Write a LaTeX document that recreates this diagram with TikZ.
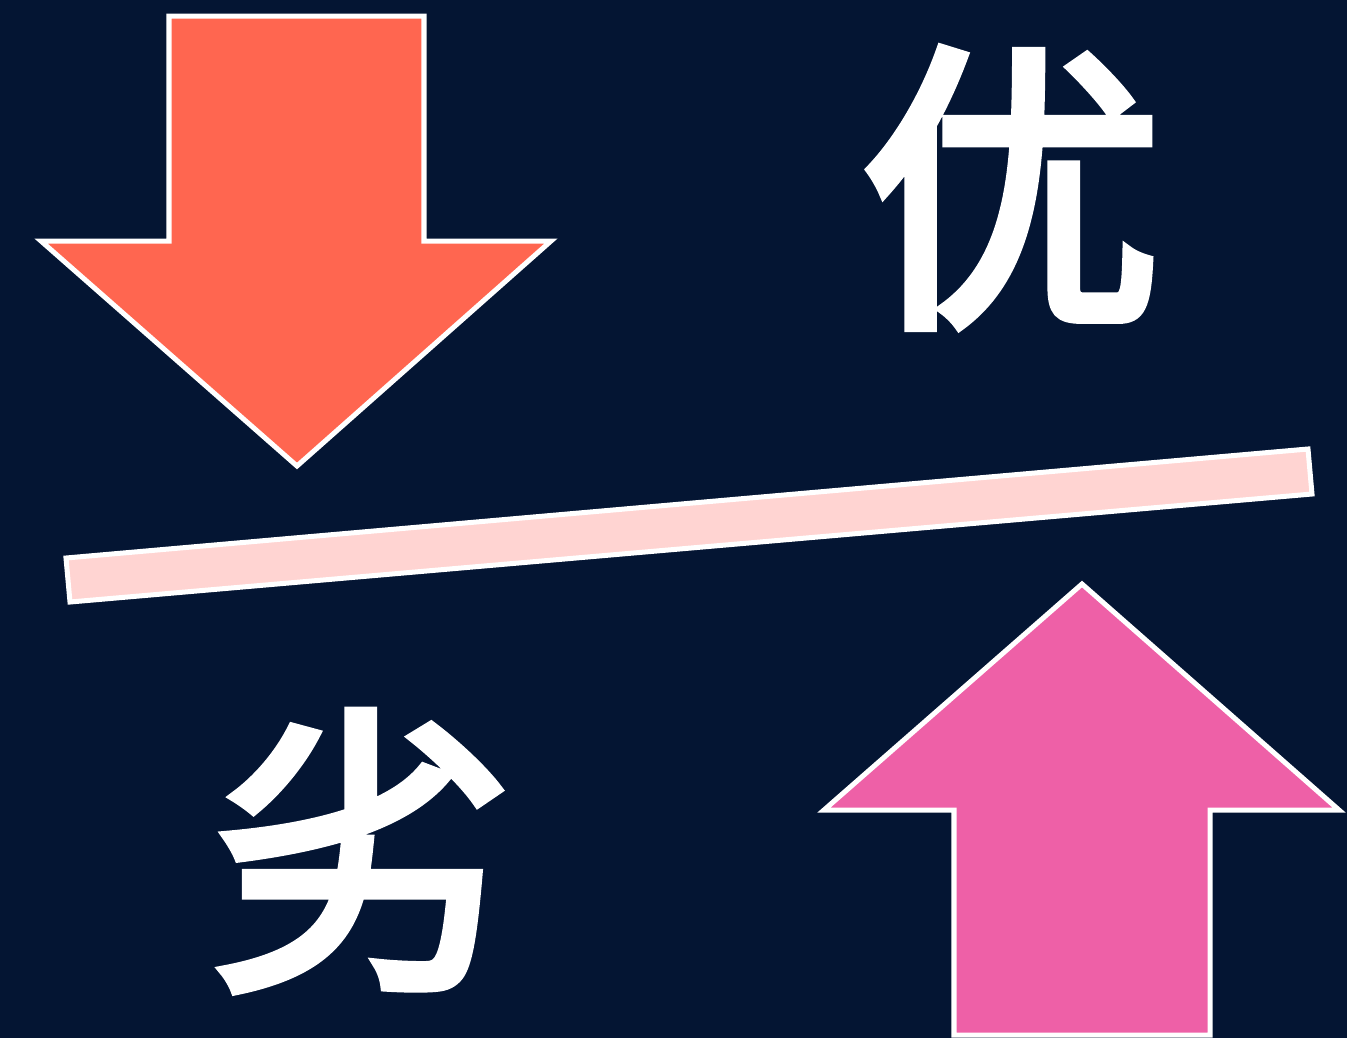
\documentclass[tikz,border=0pt]{standalone}
\usepackage{fontspec}
\newfontfamily\cjk[FakeBold=3.5]{Noto Sans CJK SC}
\definecolor{bgnavy}{HTML}{041533}
\definecolor{downorange}{HTML}{FF6650}
\definecolor{uppink}{HTML}{EE60A7}
\definecolor{barpink}{HTML}{FFD4D2}
\tikzset{
  shapeborder/.style={draw=white, line width=0.05cm, miter limit=10},
  bigchar/.style={text=white, inner sep=0pt, font=\cjk\fontsize{86}{86}\selectfont}
}
\begin{document}
\begin{tikzpicture}[x=0.01cm, y=-0.01cm]
  \fill[bgnavy] (0,0) rectangle (1347,1038);
  \useasboundingbox (0,0) rectangle (1347,1038);
  % down arrow
  \filldraw[shapeborder, fill=downorange] (169,16) -- (424,16) -- (424,241) -- (551,241) -- (297,466) -- (41,241) -- (169,241) -- cycle;
  % up arrow
  \filldraw[shapeborder, fill=uppink] (1082,584) -- (1339,810) -- (1210,810) -- (1210,1035) -- (954,1035) -- (954,810) -- (824,810) -- cycle;
  % bar
  \filldraw[shapeborder, fill=barpink] (66,558) -- (1308,449) -- (1312,494) -- (70,602) -- cycle;
  % characters
  \node[bigchar] (you) at (1011,188) {优};
  \node[bigchar] (lie) at (363,851) {劣};
\end{tikzpicture}
\end{document}
